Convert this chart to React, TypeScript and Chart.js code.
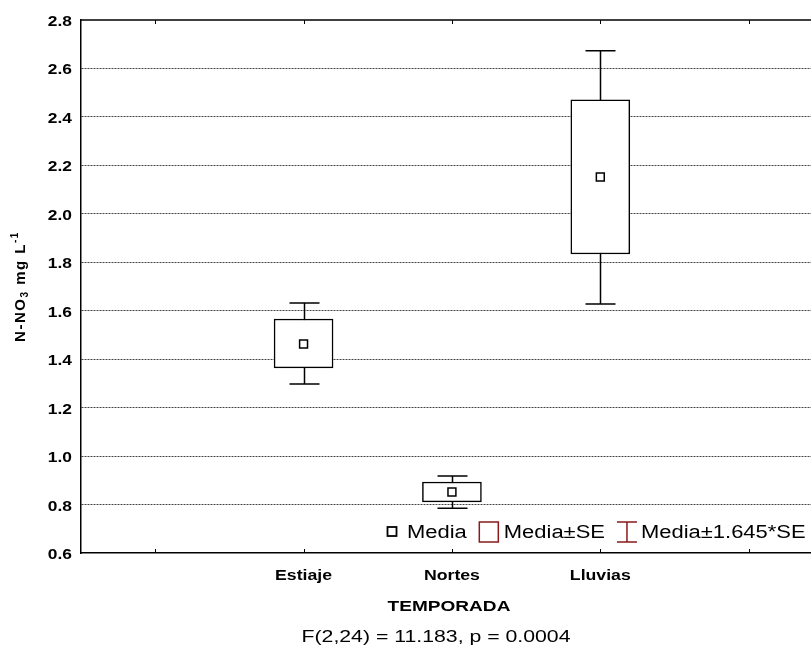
import React, { useEffect, useRef } from "react";
import { Chart, registerables } from "chart.js";

Chart.register(...registerables);

// ---- data ----
const categories = ["Estiaje", "Nortes", "Lluvias"];
const categoryPositions = [2, 3, 4];
const slotTicks = [1, 2, 3, 4, 5];
const means = [1.463, 0.852, 2.152];
const seLow = [1.364, 0.811, 1.834];
const seHigh = [1.566, 0.893, 2.47];
const ciLow = [1.298, 0.785, 1.628];
const ciHigh = [1.632, 0.918, 2.673];
const yTickValues = [0.6, 0.8, 1.0, 1.2, 1.4, 1.6, 1.8, 2.0, 2.2, 2.4, 2.6, 2.8];
const yMin = 0.6;
const yMax = 2.8;
const yStep = 0.2;
const xMin = 0.5;
const xMax = 5.42;
const legendLabels = ["Media", "Media±SE", "Media±1.645*SE"];
const xTitle = "TEMPORADA";
const statsText = "F(2,24) = 11.183, p = 0.0004";
const yTitleParts = ["N-NO", "3", " mg L", "-1"];

const FONT = '"Liberation Sans", Arial, sans-serif';
const RED = "#8b1a1a";
const SX = 1.24; // horizontal stretch of the original text rendering

function drawText(ctx: any, text: string, x: number, y: number, font: string, align: string, sx = SX) {
  ctx.save();
  ctx.font = font;
  ctx.textAlign = align;
  ctx.translate(x, y);
  ctx.scale(sx, 1);
  ctx.fillText(text, 0, 0);
  ctx.restore();
}
function textWidth(ctx: any, text: string, font: string, sx = SX) {
  ctx.save();
  ctx.font = font;
  const w = ctx.measureText(text).width * sx;
  ctx.restore();
  return w;
}

const whiskerPlugin = {
  id: "whiskers",
  beforeDatasetsDraw(chart: any) {
    const { ctx } = chart;
    const xs = chart.scales.x;
    const ys = chart.scales.y;
    ctx.save();
    ctx.strokeStyle = "#000";
    ctx.lineWidth = 1.5;
    categoryPositions.forEach((p, i) => {
      const x = Math.round(xs.getPixelForValue(p)) + 0.5;
      const yl = ys.getPixelForValue(ciLow[i]);
      const yh = ys.getPixelForValue(ciHigh[i]);
      ctx.beginPath();
      ctx.moveTo(x, yl);
      ctx.lineTo(x, yh);
      ctx.moveTo(x - 15, yl);
      ctx.lineTo(x + 15, yl);
      ctx.moveTo(x - 15, yh);
      ctx.lineTo(x + 15, yh);
      ctx.stroke();
    });
    ctx.restore();
  },
};

const decorPlugin = {
  id: "decor",
  afterDraw(chart: any) {
    const { ctx, chartArea } = chart;
    const xs = chart.scales.x;
    const ys = chart.scales.y;
    ctx.save();
    ctx.fillStyle = "#000";
    ctx.textBaseline = "alphabetic";
    // top border
    ctx.strokeStyle = "#000";
    ctx.lineWidth = 1.5;
    ctx.beginPath();
    ctx.moveTo(chartArea.left, chartArea.top);
    ctx.lineTo(chart.width, chartArea.top);
    ctx.stroke();
    // inward ticks top & bottom
    ctx.lineWidth = 1;
    slotTicks.forEach((v) => {
      const x = Math.round(xs.getPixelForValue(v)) + 0.5;
      ctx.beginPath();
      ctx.moveTo(x, chartArea.bottom);
      ctx.lineTo(x, chartArea.bottom - 4);
      ctx.moveTo(x, chartArea.top);
      ctx.lineTo(x, chartArea.top + 4);
      ctx.stroke();
    });

    // y tick labels
    const yFont = `bold 14px ${FONT}`;
    yTickValues.forEach((v) => {
      drawText(ctx, v.toFixed(1), chartArea.left - 9, ys.getPixelForValue(v) + 6, yFont, "right");
    });
    // x tick labels
    const xFont = `bold 15px ${FONT}`;
    categoryPositions.forEach((p, i) => {
      drawText(ctx, categories[i], xs.getPixelForValue(p), chartArea.bottom + 27, xFont, "center", 1.18);
    });

    // legend
    const ly = 530;
    ctx.fillStyle = "#fff";
    ctx.fillRect(380, 511, chart.width - 380, 38);
    ctx.fillStyle = "#000";
    const lFont = `18px ${FONT}`;
    let x = 387;
    ctx.strokeStyle = "#000";
    ctx.lineWidth = 1.8;
    ctx.strokeRect(x + 0.5, ly - 3, 9, 9);
    x += 20;
    drawText(ctx, legendLabels[0], x, ly + 8, lFont, "left", 1.22);
    x += textWidth(ctx, legendLabels[0], lFont, 1.22) + 12;
    ctx.strokeStyle = RED;
    ctx.lineWidth = 1.5;
    ctx.strokeRect(x + 0.5, ly - 8, 19, 20);
    x += 25;
    drawText(ctx, legendLabels[1], x, ly + 8, lFont, "left", 1.22);
    x += textWidth(ctx, legendLabels[1], lFont, 1.22) + 12;
    ctx.beginPath();
    ctx.moveTo(x, ly - 8);
    ctx.lineTo(x + 20, ly - 8);
    ctx.moveTo(x + 10, ly - 8);
    ctx.lineTo(x + 10, ly + 12);
    ctx.moveTo(x, ly + 12);
    ctx.lineTo(x + 20, ly + 12);
    ctx.stroke();
    x += 24;
    drawText(ctx, legendLabels[2], x, ly + 8, lFont, "left", 1.22);

    // x title & stats
    drawText(ctx, xTitle, 449, 611, `bold 15px ${FONT}`, "center", 1.27);
    drawText(ctx, statsText, 436, 642, `17px ${FONT}`, "center", 1.25);

    // y title with sub/superscript
    ctx.translate(21, (chartArea.top + chartArea.bottom) / 2);
    ctx.rotate(-Math.PI / 2);
    ctx.letterSpacing = "1.5px";
    const big = `bold 15px ${FONT}`;
    const small = `bold 10px ${FONT}`;
    const fonts = [big, small, big, small];
    const offs = [0, 4, 0, -6];
    let total = 0;
    const widths = yTitleParts.map((t, i) => {
      ctx.font = fonts[i];
      const w = ctx.measureText(t).width;
      total += w;
      return w;
    });
    let tx = -total / 2;
    ctx.textAlign = "left";
    ctx.textBaseline = "middle";
    yTitleParts.forEach((t, i) => {
      ctx.font = fonts[i];
      ctx.fillText(t, tx, offs[i]);
      tx += widths[i];
    });
    ctx.restore();
  },
};

export default function App() {
  const ref = useRef<HTMLCanvasElement | null>(null);
  useEffect(() => {
    if (!ref.current) return;
    const chart = new Chart(ref.current, {
      type: "bar",
      data: {
        datasets: [
          {
            type: "scatter",
            data: categoryPositions.map((p, i) => ({ x: p, y: means[i] })),
            pointStyle: "rect",
            pointRadius: 5.6,
            pointBackgroundColor: "#fff",
            pointBorderColor: "#000",
            pointBorderWidth: 1.5,
            order: 0,
          } as any,
          {
            type: "bar",
            data: categoryPositions.map((p, i) => ({ x: p, y: [seLow[i], seHigh[i]] })) as any,
            backgroundColor: "#fff",
            borderColor: "#000",
            borderWidth: 1.5,
            borderSkipped: false,
            barThickness: 59,
            order: 1,
          } as any,
        ],
      },
      options: {
        responsive: false,
        animation: false,
        devicePixelRatio: 1,
        layout: { autoPadding: false, padding: { left: 0, top: 20, right: 0, bottom: 0 } },
        plugins: { legend: { display: false }, tooltip: { enabled: false } },
        scales: {
          x: {
            type: "linear",
            min: xMin,
            max: xMax,
            offset: false,
            afterBuildTicks: (s: any) => {
              s.ticks = slotTicks.map((v) => ({ value: v }));
            },
            afterFit: (s: any) => {
              s.height = 94;
              s.paddingLeft = 0;
              s.paddingRight = 0;
            },
            ticks: { display: false },
            grid: { display: false, drawTicks: false, offset: false },
            border: { display: true, color: "#000", width: 1.5 },
          },
          y: {
            min: yMin,
            max: yMax,
            afterFit: (s: any) => {
              s.width = 81;
              s.paddingTop = 0;
              s.paddingBottom = 0;
            },
            ticks: { display: false, stepSize: yStep },
            grid: {
              drawTicks: false,
              lineWidth: 1,
              color: (c: any) => {
                const v = c.tick ? c.tick.value : 0;
                if (Math.abs(v - yMin) < 1e-6 || Math.abs(v - yMax) < 1e-6) return "rgba(0,0,0,0)";
                return "#444";
              },
            },
            border: { display: true, color: "#000", width: 1.5, dash: [2, 1] },
          },
        },
      } as any,
      plugins: [whiskerPlugin, decorPlugin],
    });
    return () => chart.destroy();
  }, []);
  return (
    <div style={{ position: "absolute", left: 0, top: 0, width: 811, height: 647, background: "#fff" }}>
      <canvas ref={ref} width={811} height={647} style={{ display: "block" }} />
    </div>
  );
}
